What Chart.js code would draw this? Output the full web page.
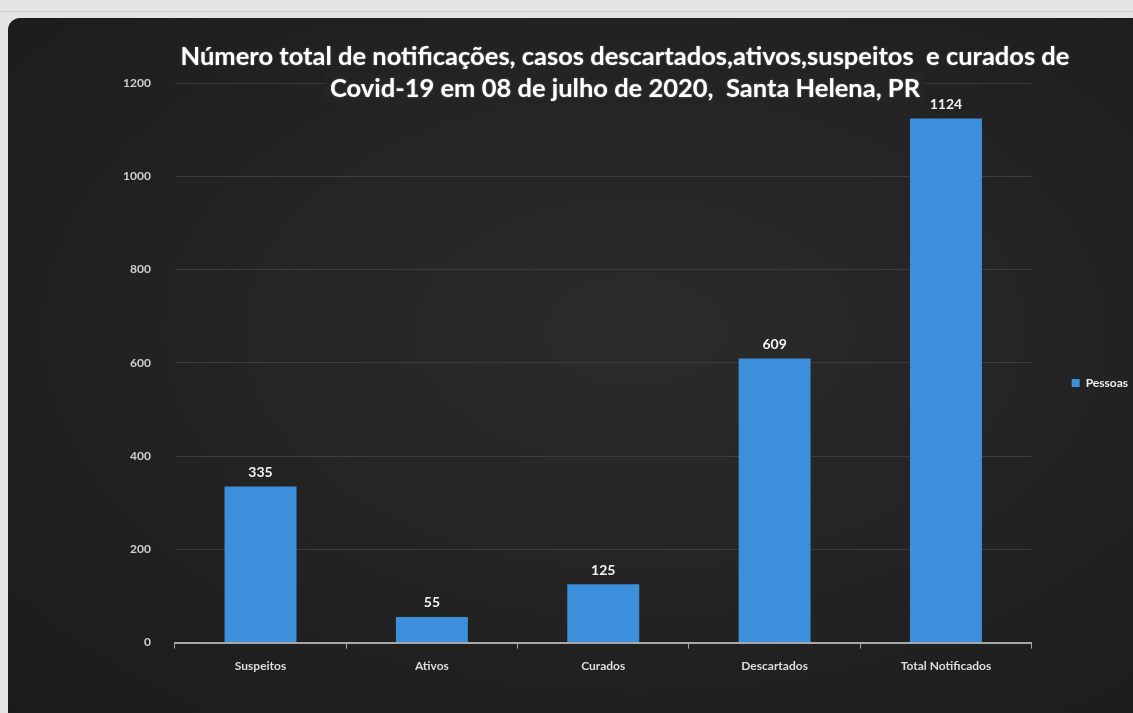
<!DOCTYPE html>
<html>
<head>
<meta charset="utf-8">
<script src="https://cdn.jsdelivr.net/npm/chart.js@4.4.1/dist/chart.umd.min.js"></script>
<style>
  html, body { margin: 0; padding: 0; width: 1133px; height: 713px; overflow: hidden; background: #e4e4e4; }
  #strip { position: absolute; left: 0; top: 11px; width: 1133px; height: 1px; background: #cfcfcf; }
  #panel { position: absolute; left: 8px; top: 18px; width: 1140px; height: 695px; overflow: hidden;
           border-top-left-radius: 12px;
           background: radial-gradient(ellipse at 55% 45%, #2b2b2b 0%, #242424 45%, #1b1b1b 100%); }
  #wrap { position: absolute; left: 0; top: 0; width: 1140px; height: 695px; }
  #title { position: absolute; left: 117px; top: 21px; width: 1000px; text-align: center; z-index: 2;
           font-family: Lato, "Open Sans", sans-serif; font-weight: bold; font-size: 25.5px; line-height: 32px;
           color: #ffffff; text-shadow: 0 0 2px rgba(255,255,255,0.4); white-space: nowrap; }
  #title span.l2 { background: #242424; padding: 0 5px; }
</style>
</head>
<body>
<div id="strip"></div>
<div id="panel">
  <div id="wrap"><canvas id="c"></canvas></div>
  <div id="title"><span>Número total de notificações, casos descartados,ativos,suspeitos&nbsp; e curados de</span><br><span class="l2">Covid-19 em 08 de julho de 2020,&nbsp; Santa Helena, PR</span></div>
</div>
<script>
const categories = ["Suspeitos", "Ativos", "Curados", "Descartados", "Total Notificados"];
const seriesName = "Pessoas";
const pessoas = [335, 55, 125, 609, 1124];
const yTicks = [0, 200, 400, 600, 800, 1000, 1200];

const valueLabels = {
  id: 'valueLabels',
  afterDatasetsDraw(chart) {
    const ctx = chart.ctx;
    const meta = chart.getDatasetMeta(0);
    ctx.save();
    ctx.font = 'bold 14px Lato, "Open Sans", sans-serif';
    ctx.fillStyle = '#f2f2f2';
    ctx.textAlign = 'center';
    ctx.textBaseline = 'bottom';
    meta.data.forEach((bar, i) => {
      ctx.fillText(String(chart.data.datasets[0].data[i]), bar.x, bar.y - 7);
    });
    ctx.restore();
  }
};

new Chart(document.getElementById('c'), {
  type: 'bar',
  data: {
    labels: categories,
    datasets: [{
      label: seriesName,
      data: pessoas,
      backgroundColor: '#3b8fdb',
      borderWidth: 0,
      categoryPercentage: 1.0,
      barPercentage: 0.42
    }]
  },
  options: {
    responsive: true,
    maintainAspectRatio: false,
    animation: false,
    layout: { padding: { left: 91, right: 10, top: 65, bottom: 30 } },
    plugins: {
      title: { display: false },
      tooltip: { enabled: false },
      legend: {
        display: true,
        position: 'right',
        labels: {
          boxWidth: 8, boxHeight: 8, padding: 40,
          color: '#eeeeee',
          font: { family: 'Lato, "Open Sans", sans-serif', size: 12, weight: 'bold' }
        }
      }
    },
    scales: {
      x: {
        grid: { display: true, drawOnChartArea: false, drawTicks: true, tickLength: 6, color: '#a8a8a8', offset: true },
        border: { display: true, color: '#a8a8a8', width: 2 },
        ticks: { color: '#dddddd', padding: 10, font: { family: 'Lato, "Open Sans", sans-serif', size: 12, weight: 'bold' } }
      },
      y: {
        min: 0, max: 1200,
        afterBuildTicks(axis) { axis.ticks = yTicks.map(v => ({ value: v })); },
        grid: { color: '#3c3c3c', lineWidth: 1, drawTicks: false },
        border: { display: false },
        ticks: {
          color: '#cfcfcf', padding: 24,
          font: { family: 'Lato, "Open Sans", sans-serif', size: 12, weight: 'bold' },
          callback: (v) => String(v)
        }
      }
    }
  },
  plugins: [valueLabels]
});
</script>
</body>
</html>
